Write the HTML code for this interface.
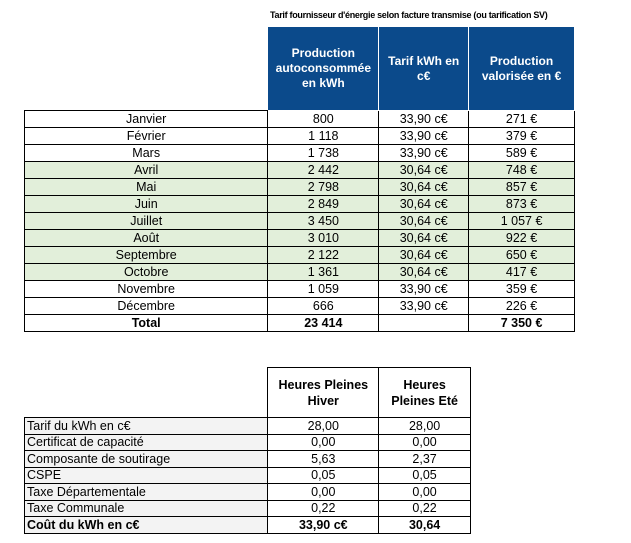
<!DOCTYPE html>
<html><head><meta charset="utf-8"><style>
body{margin:0;width:631px;height:543px;background:#fff;position:relative;font-family:"Liberation Sans",Arial,sans-serif;overflow:hidden}
.t{position:absolute;border-collapse:collapse;font-size:12.5px;color:#000}
.t td{border:1px solid #000;text-align:center;padding:0;line-height:14px}
.h td{background:#0b4a8b;color:#fff;font-weight:bold;font-size:12px;line-height:15px;border:1px solid #fff}
.g td{background:#e2efda}
.b td{font-weight:bold}
#title{position:absolute;left:270px;top:10px;font-size:9px;font-weight:bold;letter-spacing:-0.3px}
.t2 td.l{text-align:left;padding-left:2px;background:#f3f3f3}
</style></head><body>
<div id="title">Tarif fournisseur d'énergie selon facture transmise (ou tarification SV)</div>
<table class="t" style="left:24px;top:26px;width:551px">
<colgroup><col style="width:244px"><col style="width:111px"><col style="width:90px"><col style="width:106px"></colgroup>
<tr class="h" style="height:84px"><td style="background:#fff;border:none;border-bottom:1px solid #000"></td><td>Production<br>autoconsommée<br>en kWh</td><td>Tarif kWh en<br>c€</td><td>Production<br>valorisée en €</td></tr>
<tr style="height:17px"><td>Janvier</td><td>800</td><td>33,90 c€</td><td>271 €</td></tr>
<tr style="height:17px"><td>Février</td><td>1 118</td><td>33,90 c€</td><td>379 €</td></tr>
<tr style="height:17px"><td>Mars</td><td>1 738</td><td>33,90 c€</td><td>589 €</td></tr>
<tr class="g" style="height:17px"><td>Avril</td><td>2 442</td><td>30,64 c€</td><td>748 €</td></tr>
<tr class="g" style="height:17px"><td>Mai</td><td>2 798</td><td>30,64 c€</td><td>857 €</td></tr>
<tr class="g" style="height:17px"><td>Juin</td><td>2 849</td><td>30,64 c€</td><td>873 €</td></tr>
<tr class="g" style="height:17px"><td>Juillet</td><td>3 450</td><td>30,64 c€</td><td>1 057 €</td></tr>
<tr class="g" style="height:17px"><td>Août</td><td>3 010</td><td>30,64 c€</td><td>922 €</td></tr>
<tr class="g" style="height:17px"><td>Septembre</td><td>2 122</td><td>30,64 c€</td><td>650 €</td></tr>
<tr class="g" style="height:17px"><td>Octobre</td><td>1 361</td><td>30,64 c€</td><td>417 €</td></tr>
<tr style="height:17px"><td>Novembre</td><td>1 059</td><td>33,90 c€</td><td>359 €</td></tr>
<tr style="height:17px"><td>Décembre</td><td>666</td><td>33,90 c€</td><td>226 €</td></tr>
<tr class="b" style="height:17px"><td>Total</td><td>23 414</td><td></td><td>7 350 €</td></tr>
</table>
<table class="t t2" style="left:24px;top:367px;width:447px">
<colgroup><col style="width:244px"><col style="width:111px"><col style="width:92px"></colgroup>
<tr style="height:50px" class="b"><td style="border:none;border-bottom:1px solid #000"></td><td style="line-height:16px">Heures Pleines<br>Hiver</td><td style="line-height:16px">Heures<br>Pleines Eté</td></tr>
<tr style="height:16.5px"><td class="l">Tarif du kWh en c€</td><td>28,00</td><td>28,00</td></tr>
<tr style="height:16.5px"><td class="l">Certificat de capacité</td><td>0,00</td><td>0,00</td></tr>
<tr style="height:16.5px"><td class="l">Composante de soutirage</td><td>5,63</td><td>2,37</td></tr>
<tr style="height:16.5px"><td class="l">CSPE</td><td>0,05</td><td>0,05</td></tr>
<tr style="height:16.5px"><td class="l">Taxe Départementale</td><td>0,00</td><td>0,00</td></tr>
<tr style="height:16.5px"><td class="l">Taxe Communale</td><td>0,22</td><td>0,22</td></tr>
<tr style="height:16.5px" class="b"><td class="l">Coût du kWh en c€</td><td>33,90 c€</td><td>30,64</td></tr>
</table>
</body></html>
